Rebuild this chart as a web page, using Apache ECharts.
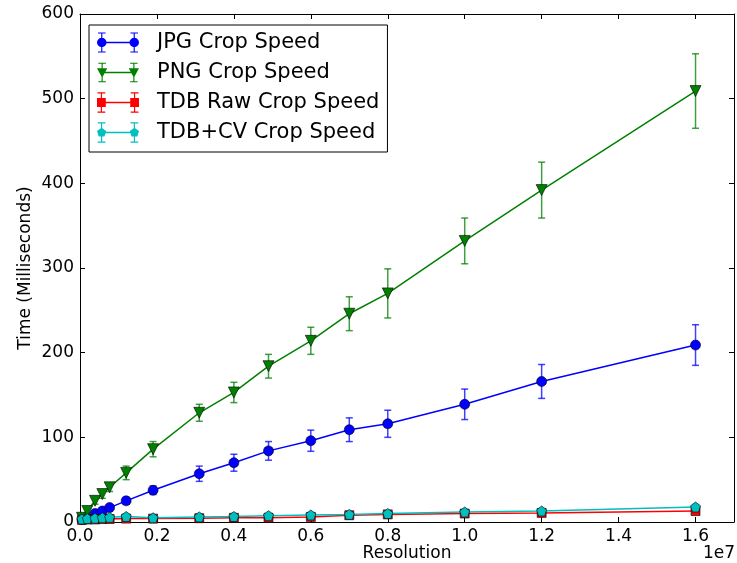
<!DOCTYPE html>
<html>
<head>
<meta charset="utf-8">
<script src="https://cdn.jsdelivr.net/npm/echarts@6/dist/echarts.min.js"></script>
<style>
html,body{margin:0;padding:0;background:#fff;}
#main{width:737px;height:563px;}
</style>
</head>
<body>
<div id="main"></div>
<script>
// ---- data ----
const resolution = [50000, 190000, 390000, 580000, 770000, 1200000, 1900000, 3100000, 4000000, 4900000, 6000000, 7000000, 8000000, 10000000, 12000000, 16000000];
const seriesNames = ['JPG Crop Speed', 'PNG Crop Speed', 'TDB Raw Crop Speed', 'TDB+CV Crop Speed'];
const jpgMean = [3, 6, 10, 13, 17, 25, 37.5, 57, 70, 84, 96, 109, 116, 139, 166, 209];
const jpgErr  = [1, 1.5, 2, 2.5, 3, 4, 5, 9, 10, 11, 12.5, 14, 16, 18, 20, 24];
const pngMean = [5, 13, 25, 33, 41, 58, 86, 129, 153, 184, 214, 246, 270, 332, 392, 509];
const pngErr  = [1, 3, 4, 5, 5, 8, 9, 10, 12, 14, 16, 20, 29, 27, 33, 44];
const rawMean = [2.5, 3, 3, 3.5, 3.5, 4, 4, 4.5, 5, 5, 6, 8, 9, 10, 10.7, 13];
const rawErr  = [1, 1, 1, 1, 1, 1, 1, 1, 1, 1, 1, 1, 1, 1, 1, 1.5];
const cvMean  = [3.5, 4, 4.5, 5, 5.5, 6.5, 5, 6, 6.5, 7.5, 8.3, 9, 10, 11.8, 13, 17.7];
const cvErr   = [1, 1, 1, 1, 1, 1.5, 1, 1.5, 1.5, 1.5, 1.5, 1.5, 1.5, 1.5, 1.5, 2];
const xTicks = {min: 0, max: 17000000, interval: 2000000};
const yTicks = {min: 0, max: 600, interval: 100};

const means = [jpgMean, pngMean, rawMean, cvMean];
const errs = [jpgErr, pngErr, rawErr, cvErr];
const colors = ['#0000ff', '#008000', '#ff0000', '#00bfbf'];
const pentagon = 'path://M5,0 L9.76,3.45 L7.94,9.05 L2.06,9.05 L0.24,3.45 Z';
const symbols = ['circle', 'triangle', 'rect', pentagon];
const symbolSizes = [10, 11, 9, 10];
const symbolRotates = [0, 180, 0, 0];
const FONT = 'DejaVu Sans';

// legend icon paths (line + error bars + markers), bbox 42x21
function markerPath(kind, cx, cy) {
  if (kind === 0) {
    const r = 5;
    return `M${cx - r},${cy} A${r},${r} 0 1 1 ${cx + r},${cy} A${r},${r} 0 1 1 ${cx - r},${cy} Z `;
  }
  if (kind === 1) {
    return `M${cx - 5.5},${cy - 4.5} L${cx + 5.5},${cy - 4.5} L${cx},${cy + 5.5} Z `;
  }
  if (kind === 2) {
    return `M${cx - 4.5},${cy - 4.5} L${cx + 4.5},${cy - 4.5} L${cx + 4.5},${cy + 4.5} L${cx - 4.5},${cy + 4.5} Z `;
  }
  const pts = [];
  for (let k = 0; k < 5; k++) {
    const a = -Math.PI / 2 + k * 2 * Math.PI / 5;
    pts.push((cx + 5 * Math.cos(a)).toFixed(2) + ',' + (cy + 5 * Math.sin(a)).toFixed(2));
  }
  return 'M' + pts.join(' L') + ' Z ';
}
function rect(x, y, w, h) {
  return `M${x},${y} L${x + w},${y} L${x + w},${y + h} L${x},${y + h} Z `;
}
function legendIcon(kind) {
  let p = '';
  p += rect(4, 9.8, 34, 1.4);
  [4, 38].forEach(cx => {
    p += rect(cx - 0.6, 0, 1.2, 21);
    p += rect(cx - 4, 0, 8, 1.2);
    p += rect(cx - 4, 19.8, 8, 1.2);
    p += markerPath(kind, cx, 10.5);
  });
  return 'path://' + p;
}

const series = [];
seriesNames.forEach((name, i) => {
  const errData = resolution.map((x, j) => [x, means[i][j] - errs[i][j], means[i][j] + errs[i][j]]);
  series.push({
    type: 'custom',
    name: name,
    z: 2 + i * 2,
    silent: true,
    data: errData,
    encode: {x: 0, y: [1, 2]},
    renderItem: function (params, api) {
      const x = api.value(0);
      const lo = api.coord([x, api.value(1)]);
      const hi = api.coord([x, api.value(2)]);
      const c = 3.5;
      const st = {stroke: colors[i], lineWidth: 1.5, opacity: 0.75};
      return {
        type: 'group',
        children: [
          {type: 'line', shape: {x1: lo[0], y1: lo[1], x2: hi[0], y2: hi[1]}, style: st},
          {type: 'line', shape: {x1: lo[0] - c, y1: lo[1], x2: lo[0] + c, y2: lo[1]}, style: st},
          {type: 'line', shape: {x1: hi[0] - c, y1: hi[1], x2: hi[0] + c, y2: hi[1]}, style: st}
        ]
      };
    }
  });
  series.push({
    type: 'line',
    name: name,
    z: 3 + i * 2,
    data: resolution.map((x, j) => [x, means[i][j]]),
    symbol: symbols[i],
    symbolSize: symbolSizes[i],
    symbolRotate: symbolRotates[i],
    showAllSymbol: true,
    lineStyle: {color: colors[i], width: 1.5},
    itemStyle: {color: colors[i], borderColor: '#000', borderWidth: 0.6},
    emphasis: {disabled: true}
  });
});

const axisCommon = {
  axisLine: {show: true, onZero: false, lineStyle: {color: '#000', width: 1}},
  axisTick: {show: true, inside: true, length: 5, lineStyle: {color: '#000', width: 1}},
  splitLine: {show: false}
};

const chart = echarts.init(document.getElementById('main'), null, {renderer: 'canvas'});
chart.setOption({
  animation: false,
  backgroundColor: '#fff',
  textStyle: {fontFamily: FONT},
  grid: {left: 80, right: 3, top: 14, bottom: 41, show: false, containLabel: false, outerBoundsMode: 'none'},
  xAxis: [
    Object.assign({
      type: 'value', position: 'bottom', min: xTicks.min, max: xTicks.max, interval: xTicks.interval,
      name: 'Resolution', nameLocation: 'middle', nameGap: 23, nameMoveOverlap: false,
      nameTextStyle: {fontSize: 17, color: '#000', fontFamily: FONT},
      axisLabel: {
        fontSize: 17, color: '#000', fontFamily: FONT, margin: 6, showMaxLabel: false,
        formatter: v => (v > 16000000 ? '' : (v / 1e7).toFixed(1))
      }
    }, axisCommon),
    Object.assign({
      type: 'value', position: 'top', min: xTicks.min, max: xTicks.max, interval: xTicks.interval,
      axisLabel: {show: false}
    }, axisCommon)
  ],
  yAxis: [
    Object.assign({
      type: 'value', position: 'left', min: yTicks.min, max: yTicks.max, interval: yTicks.interval,
      name: 'Time (Milliseconds)', nameLocation: 'middle', nameGap: 46, nameMoveOverlap: false,
      nameTextStyle: {fontSize: 17, color: '#000', fontFamily: FONT},
      axisLabel: {fontSize: 17, color: '#000', fontFamily: FONT, margin: 6}
    }, axisCommon),
    Object.assign({
      type: 'value', position: 'right', min: yTicks.min, max: yTicks.max, interval: yTicks.interval,
      axisLabel: {show: false}
    }, axisCommon)
  ],
  legend: {
    orient: 'vertical',
    left: 89, top: 25,
    padding: [7, 8, 9, 8],
    itemWidth: 42, itemHeight: 21, itemGap: 9,
    borderColor: '#000', borderWidth: 1, borderRadius: 0,
    backgroundColor: '#fff',
    z: 20,
    selectedMode: false,
    textStyle: {fontSize: 21, lineHeight: 21, color: '#000', fontFamily: FONT, padding: [0, 0, 0, 13]},
    data: seriesNames.map((n, i) => ({name: n, icon: legendIcon(i), itemStyle: {color: colors[i], borderWidth: 0}}))
  },
  graphic: [{
    type: 'text', right: 2, top: 545,
    style: {text: '1e7', fontSize: 17, fill: '#000', fontFamily: FONT}
  }],
  series: series
});
</script>
</body>
</html>
